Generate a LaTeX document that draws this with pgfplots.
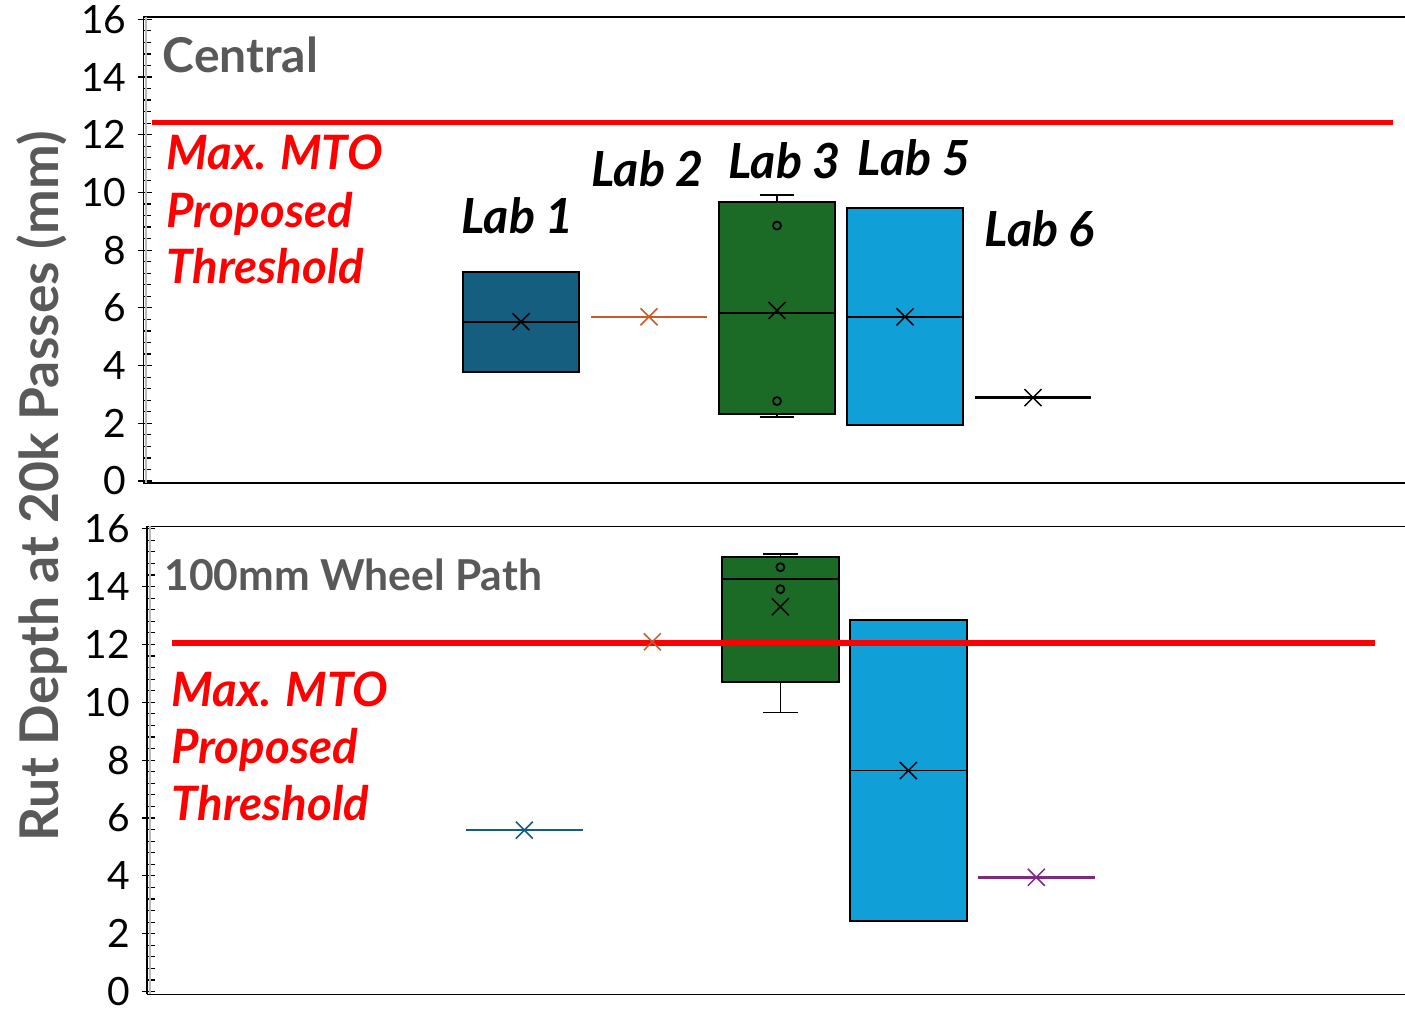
\documentclass[border=0pt]{standalone}
\usepackage{fontspec}
\setmainfont{Lato}
\usepackage{pgfplots}
\pgfplotsset{compat=1.18}
\usepgfplotslibrary{statistics}

\definecolor{labone}{RGB}{22,94,128}
\definecolor{labtwo}{RGB}{197,92,42}
\definecolor{labthree}{RGB}{27,106,38}
\definecolor{labfive}{RGB}{16,159,215}
\definecolor{labsix}{RGB}{126,42,128}
\definecolor{txtgray}{RGB}{89,89,89}
\definecolor{mtored}{RGB}{255,0,0}

\pgfplotsset{
  rutpanel/.style={
    scale only axis,
    ymax=16.08,
    xmin=-1.949,
    axis x line*=box,
    axis y line*=left,
    xtick=\empty,
    ytick={0,2,...,16},
    minor y tick num=4,
    tick align=inside,
    major tick length=6.5pt,
    minor tick length=4pt,
    tick style={black, line width=0.6pt},
    major tick style={xshift=-2.5pt},
    x axis line style={line width=0.75pt},
    y axis line style={line width=0.6pt},
    yticklabel style={font=\fontsize{19.5}{19.5}\selectfont, text=black, xshift=-5pt},
    /pgf/number format/assume math mode=true,
    clip=false,
    boxplot/draw direction=y,
    boxplot/every median/.style={black, line width=0.9pt},
    boxplot/every whisker/.style={black, line width=0.8pt},
    boxplot/box extend=0.91,
    boxplot/whisker extend=0.27,
  },
  labbox/.style={draw=black, line width=1pt, fill=#1,
    mark=o, mark size=2pt, mark options={black, line width=0.9pt, fill=none}},
  meanx/.style={only marks, mark=x, mark size=6pt,
    mark options={line width=0.75pt, draw=#1}},
  flat/.style={draw=#1, line width=1.2pt, no marks},
  threshold/.style={draw=mtored, line width=2.6pt, no marks},
}
\tikzset{
  labname/.style={font=\fontsize{24.2}{24.2}\selectfont\bfseries\itshape,
    anchor=base, inner sep=0pt},
  redname/.style={font=\fontsize{23.7}{23.7}\selectfont\bfseries\itshape,
    text=mtored, anchor=base west, inner sep=0pt},
  panelname/.style={font=\fontsize{#1}{#1}\selectfont\bfseries,
    text=txtgray, anchor=base west, inner sep=0pt},
}

\begin{document}
\begin{tikzpicture}
\useasboundingbox (0,0) rectangle (702.5pt,505.5pt);

% ---------------- Central ----------------
\begin{axis}[rutpanel,
  at={(71.75pt,264pt)}, anchor=south west,
  width=630.75pt, height=233pt,
  ymin=-0.069, xmax=7.906]
  \draw[gray!55, line width=1pt]
    ([xshift=1.25pt]rel axis cs:0,0) -- ([xshift=1.25pt]rel axis cs:0,1);

  % Lab 1
  \addplot[labbox=labone, boxplot prepared={draw position=1,
    lower whisker=3.79, lower quartile=3.79, median=5.52,
    upper quartile=7.23, upper whisker=7.23}] coordinates {};
  % Lab 2 (all results equal)
  \addplot[flat=labtwo] coordinates {(1.545,5.69) (2.455,5.69)};
  % Lab 3
  \addplot[labbox=labthree, boxplot prepared={draw position=3,
    lower whisker=2.21, lower quartile=2.33, median=5.82,
    upper quartile=9.66, upper whisker=9.91}]
    coordinates {(3,8.85) (3,2.77)};
  % Lab 5
  \addplot[labbox=labfive, boxplot prepared={draw position=4,
    lower whisker=1.94, lower quartile=1.94, median=5.68,
    upper quartile=9.46, upper whisker=9.46}] coordinates {};
  % Lab 6 (all results equal)
  \addplot[flat=black] coordinates {(4.545,2.89) (5.455,2.89)};

  % means
  \addplot[meanx=black] coordinates {(1,5.52) (3,5.91) (4,5.69) (5,2.89)};
  \addplot[meanx=labtwo] coordinates {(2,5.69)};

  % MTO threshold
  \addplot[threshold] coordinates {(-1.883,12.42) (7.813,12.42)};

  \node[panelname=24] at (axis cs:-1.801,14.14) {Central};
  \node[redname] at (axis cs:-1.773,10.78) {Max. MTO};
  \node[redname] at (axis cs:-1.773,8.80) {Proposed};
  \node[redname] at (axis cs:-1.773,6.86) {Threshold};

  \node[labname] at (axis cs:0.973,8.59) {Lab 1};
  \node[labname] at (axis cs:1.989,10.19) {Lab 2};
  \node[labname] at (axis cs:3.059,10.50) {Lab 3};
  \node[labname] at (axis cs:4.070,10.60) {Lab 5};
  \node[labname] at (axis cs:5.051,8.11) {Lab 6};
\end{axis}

% ---------------- 100mm Wheel Path ----------------
\begin{axis}[rutpanel,
  at={(73.5pt,8.3pt)}, anchor=south west,
  width=629pt, height=234pt,
  ymin=-0.097, xmin=-1.948, xmax=7.880]
  \draw[gray!55, line width=1pt]
    ([xshift=1.25pt]rel axis cs:0,0) -- ([xshift=1.25pt]rel axis cs:0,1);

  % Lab 1 (all results equal)
  \addplot[flat=labone] coordinates {(0.545,5.58) (1.455,5.58)};
  % Lab 2 (all results equal)
  \addplot[flat=labtwo] coordinates {(1.545,12.09) (2.455,12.09)};
  % Lab 3
  \addplot[labbox=labthree, boxplot prepared={draw position=3,
    lower whisker=9.64, lower quartile=10.69, median=14.26,
    upper quartile=15.01, upper whisker=15.13}]
    coordinates {(3,14.67) (3,13.91)};
  % Lab 5
  \addplot[labbox=labfive, boxplot prepared={draw position=4,
    lower whisker=2.44, lower quartile=2.44, median=7.64,
    upper quartile=12.83, upper whisker=12.83}] coordinates {};
  % Lab 6 (all results equal)
  \addplot[flat=labsix] coordinates {(4.545,3.95) (5.455,3.95)};

  % MTO threshold
  \addplot[threshold] coordinates {(-1.753,12.05) (7.646,12.05)};

  % means
  \addplot[meanx=black] coordinates {(3,13.30) (4,7.64)};
  \addplot[meanx=labone] coordinates {(1,5.58)};
  \addplot[meanx=labtwo] coordinates {(2,12.09)};
  \addplot[meanx=labsix] coordinates {(5,3.95)};

  \node[panelname=21.3] at (axis cs:-1.815,13.85) {100mm Wheel Path};
  \node[redname] at (axis cs:-1.760,9.85) {Max. MTO};
  \node[redname] at (axis cs:-1.760,7.88) {Proposed};
  \node[redname] at (axis cs:-1.760,5.91) {Threshold};
\end{axis}

\node[rotate=90, anchor=base, inner sep=0pt, text=txtgray,
  font=\fontsize{26.7}{26.7}\selectfont\bfseries]
  at (29pt,262.25pt) {Rut Depth at 20k Passes (mm)};
\end{tikzpicture}
\end{document}
